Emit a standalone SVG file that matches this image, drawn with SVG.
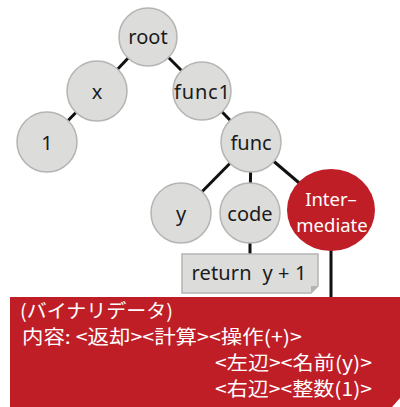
<svg xmlns="http://www.w3.org/2000/svg" width="400" height="407" viewBox="0 0 400 407">
<style>
.n{fill:#dcdcdb;stroke:#b4b4b2;stroke-width:1.5}
.t{font-family:"Noto Sans",sans-serif;font-size:20px;fill:#1a1a1a;text-anchor:middle}
.w{font-family:"Noto Sans",sans-serif;font-size:18.5px;fill:#ffffff;text-anchor:middle}
.j{font-family:"Noto Sans CJK JP",sans-serif;font-size:19px;fill:#ffffff}
.e{stroke:#111;stroke-width:3;fill:none}
</style>
<rect width="400" height="407" fill="#ffffff"/>
<g id="connectors">
<line class="e" x1="148" y1="37" x2="97" y2="91"/>
<line class="e" x1="148" y1="37" x2="202" y2="91"/>
<line class="e" x1="97" y1="91" x2="47" y2="142"/>
<line class="e" x1="202" y1="91" x2="251" y2="142"/>
<line class="e" x1="251" y1="142" x2="181" y2="213"/>
<line class="e" x1="251" y1="142" x2="250" y2="213"/>
<line class="e" x1="251" y1="142" x2="331" y2="210"/>
<line class="e" x1="250" y1="213" x2="250" y2="256"/>
<line class="e" x1="331" y1="210" x2="331" y2="298"/>
</g>
<g id="root"><circle class="n" cx="148" cy="37" r="29"/><text class="t" x="148" y="44">root</text></g>
<g id="x"><circle class="n" cx="97" cy="91" r="30"/><text class="t" x="97" y="99">x</text></g>
<g id="func1"><circle class="n" cx="202" cy="91" r="29"/><text class="t" x="202" y="99" textLength="56" lengthAdjust="spacing">func1</text></g>
<g id="one"><circle class="n" cx="47" cy="142" r="30"/><text class="t" x="47" y="150">1</text></g>
<g id="func"><circle class="n" cx="251" cy="142" r="30"/><text class="t" x="251" y="150">func</text></g>
<g id="y"><circle class="n" cx="181" cy="213" r="30"/><text class="t" x="181" y="221">y</text></g>
<g id="code"><circle class="n" cx="250" cy="213" r="30"/><text class="t" x="250" y="221">code</text></g>
<g id="intermediate"><ellipse cx="331" cy="210" rx="44" ry="41" fill="#bf1e27"/><text class="w" x="331" y="206">Inter–</text><text class="w" x="332" y="232">mediate</text></g>
<g id="return">
<path d="M182,254 H318 V286 L311,293 H182 Z" fill="#dcdcdb" stroke="#b4b4b2" stroke-width="1.5"/>
<path d="M318,286 L311,286 L311,293 Z" fill="#b4b4b2"/>
<text class="t" x="249" y="280" textLength="115" lengthAdjust="spacing" xml:space="preserve">return  y + 1</text>
</g>
<g id="binary">
<path d="M10,297 H400 V398 L392,407 H10 Z" fill="#bf1e27"/>
<text class="j" x="20" y="318" textLength="153" lengthAdjust="spacingAndGlyphs">(バイナリデータ)</text>
<text class="j" x="22" y="344" textLength="280" lengthAdjust="spacingAndGlyphs">内容: &lt;返却&gt;&lt;計算&gt;&lt;操作(+)&gt;</text>
<text class="j" x="215" y="370" textLength="157" lengthAdjust="spacingAndGlyphs">&lt;左辺&gt;&lt;名前(y)&gt;</text>
<text class="j" x="215" y="396" textLength="157" lengthAdjust="spacingAndGlyphs">&lt;右辺&gt;&lt;整数(1)&gt;</text>
</g>
</svg>
